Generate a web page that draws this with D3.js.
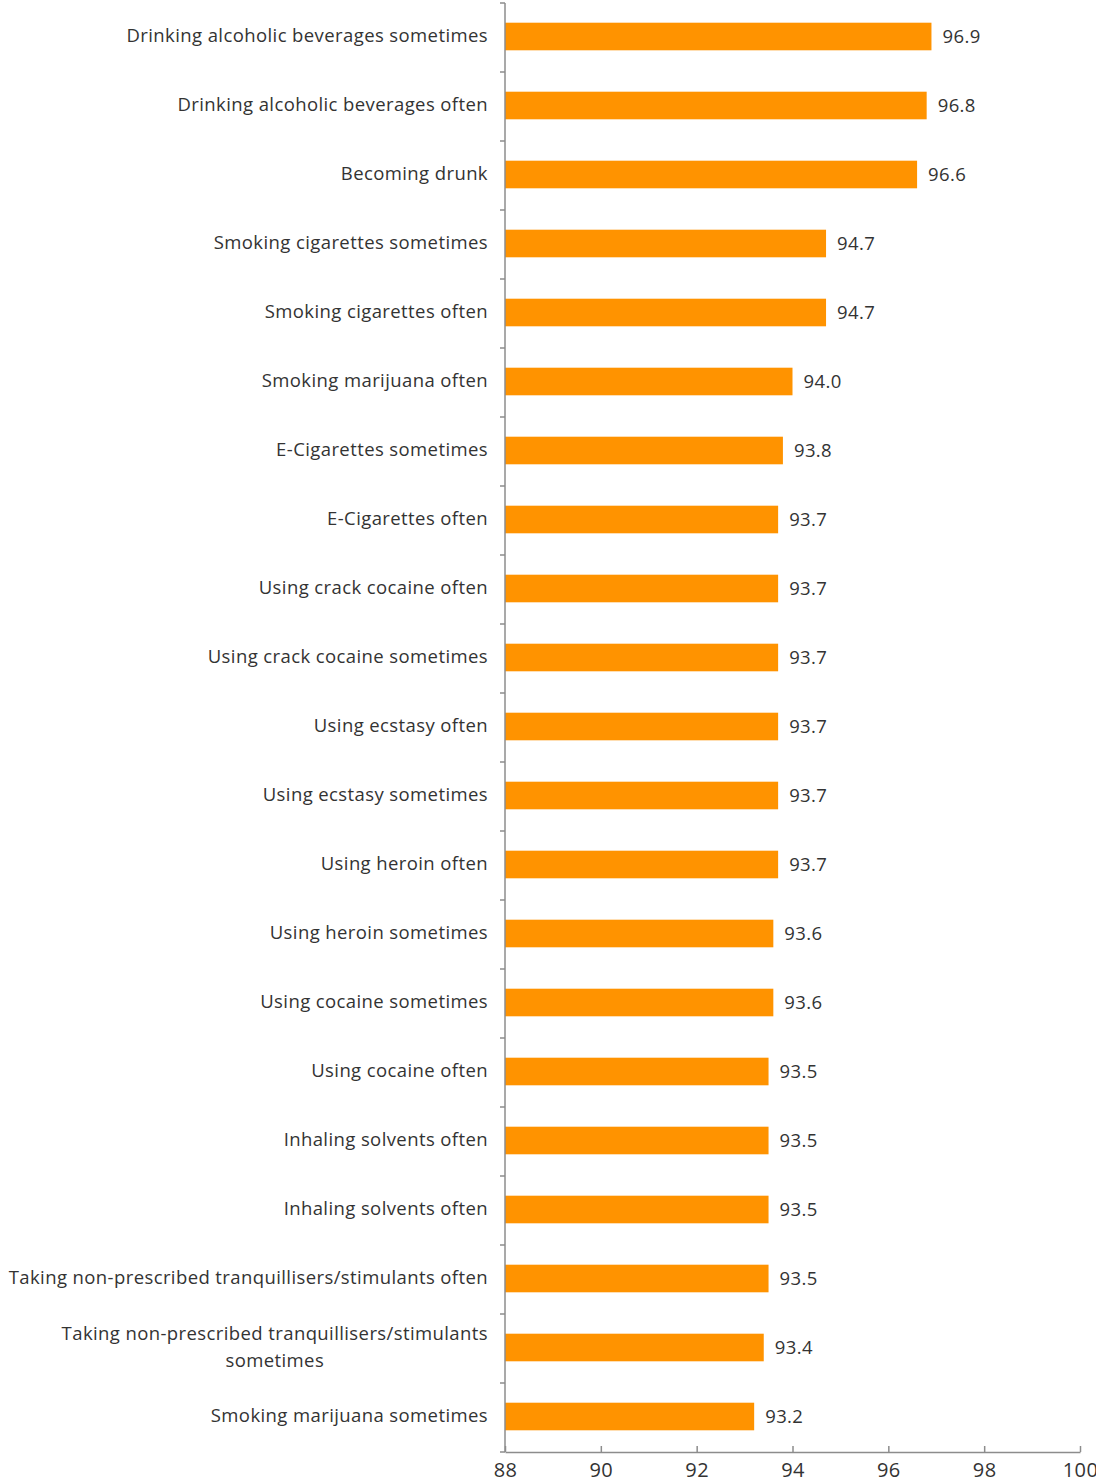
<!DOCTYPE html>
<html>
<head>
<meta charset="utf-8">
<script src="https://cdn.jsdelivr.net/npm/d3@7"></script>
<style>
  html, body { margin: 0; padding: 0; background: #fff; }
  svg text { font-family: "Open Sans", "Noto Sans", sans-serif; fill: #333; letter-spacing: 0.4px; }
</style>
</head>
<body>
<svg id="chart" width="1096" height="1482"></svg>
<script>
// Share of respondents (%) by behaviour
const categories = [
  "Drinking alcoholic beverages sometimes",
  "Drinking alcoholic beverages often",
  "Becoming drunk",
  "Smoking cigarettes sometimes",
  "Smoking cigarettes often",
  "Smoking marijuana often",
  "E-Cigarettes sometimes",
  "E-Cigarettes often",
  "Using crack cocaine often",
  "Using crack cocaine sometimes",
  "Using ecstasy often",
  "Using ecstasy sometimes",
  "Using heroin often",
  "Using heroin sometimes",
  "Using cocaine sometimes",
  "Using cocaine often",
  "Inhaling solvents often",
  "Inhaling solvents often",
  "Taking non-prescribed tranquillisers/stimulants often",
  "Taking non-prescribed tranquillisers/stimulants sometimes",
  "Smoking marijuana sometimes"
];
const values = [96.9, 96.8, 96.6, 94.7, 94.7, 94.0, 93.8, 93.7, 93.7, 93.7, 93.7, 93.7, 93.7, 93.6, 93.6, 93.5, 93.5, 93.5, 93.5, 93.4, 93.2];
const xTicks = [88, 90, 92, 94, 96, 98, 100];

const svg = d3.select("#chart");
const margin = { top: 3, left: 505 };
const fontSize = 18.5;

const rows = categories.map((c, i) => ({ key: i, label: c, value: values[i] }));

const x = d3.scaleLinear().domain([88, 100]).range([0, 575]);
const y = d3.scaleBand().domain(rows.map(d => d.key)).range([0, 1449]).paddingInner(0.6).paddingOuter(0.3);

const g = svg.append("g").attr("transform", `translate(${margin.left},${margin.top})`);

// Bars
g.selectAll("rect.bar").data(rows).join("rect")
  .attr("class", "bar")
  .attr("x", x(88))
  .attr("y", d => y(d.key) - 1)
  .attr("width", d => x(d.value) - x(88))
  .attr("height", y.bandwidth())
  .attr("fill", "#FF9300");

// Value labels
g.selectAll("text.val").data(rows).join("text")
  .attr("class", "val")
  .attr("x", d => x(d.value) + 11)
  .attr("y", d => y(d.key) + y.bandwidth() / 2 - 1)
  .attr("dy", "0.36em")
  .attr("font-size", fontSize)
  .text(d => d.value.toFixed(1));

// Left axis: line with ticks at row boundaries
const step = y.step();
const axisColor = "#8c8c8c";
g.append("line")
  .attr("x1", 0).attr("x2", 0).attr("y1", 0).attr("y2", 1449)
  .attr("stroke", axisColor).attr("stroke-width", 1.5);
g.selectAll("line.ytick").data(d3.range(categories.length + 1)).join("line")
  .attr("class", "ytick")
  .attr("x1", -5).attr("x2", 0)
  .attr("y1", i => i * step).attr("y2", i => i * step)
  .attr("stroke", axisColor).attr("stroke-width", 1.5);

// Category labels, wrapped when longer than the available width
const maxLabelW = 490;
const labels = g.selectAll("text.cat").data(rows).join("text")
  .attr("class", "cat")
  .attr("x", -17)
  .attr("y", d => y(d.key) + y.bandwidth() / 2 - 2)
  .attr("text-anchor", "end")
  .attr("font-size", fontSize);
labels.each(function(d) {
  const t = d3.select(this);
  const words = d.label.split(" ");
  const lines = [];
  let line = [];
  const probe = t.append("tspan");
  words.forEach(w => {
    const trial = line.concat(w).join(" ");
    probe.text(trial);
    if (probe.node().getComputedTextLength() > maxLabelW && line.length) {
      lines.push(line.join(" "));
      line = [w];
    } else {
      line.push(w);
    }
  });
  lines.push(line.join(" "));
  probe.remove();
  const lh = 1.45;
  const first = 0.36 - (lines.length - 1) * lh / 2;
  lines.forEach((ln, i) => {
    t.append("tspan")
      .attr("x", -17)
      .attr("dy", (i === 0 ? first : lh) + "em")
      .text(ln);
  });
  if (lines.length > 1) {
    // centre the wrapped block on its widest line
    const widths = [];
    t.selectAll("tspan").each(function() { widths.push(this.getComputedTextLength()); });
    const wmax = d3.max(widths);
    t.attr("text-anchor", "middle");
    t.selectAll("tspan").attr("x", -17 - wmax / 2);
  }
});

// Bottom axis
const xAxis = d3.axisBottom(x).tickValues(xTicks).tickSize(6).tickSizeOuter(0).tickFormat(d3.format("d"));
const ax = g.append("g").attr("transform", `translate(0,1449)`).call(xAxis);
ax.select(".domain").attr("stroke", axisColor).attr("stroke-width", 1.5);
ax.selectAll(".tick line").attr("stroke", axisColor).attr("stroke-width", 1.5).attr("y1", 0).attr("y2", -6);
ax.selectAll(".tick text").attr("font-size", 20).attr("fill", "#333").attr("y", 11)
  .style("font-family", '"Open Sans", "Noto Sans", sans-serif');
</script>
</body>
</html>
